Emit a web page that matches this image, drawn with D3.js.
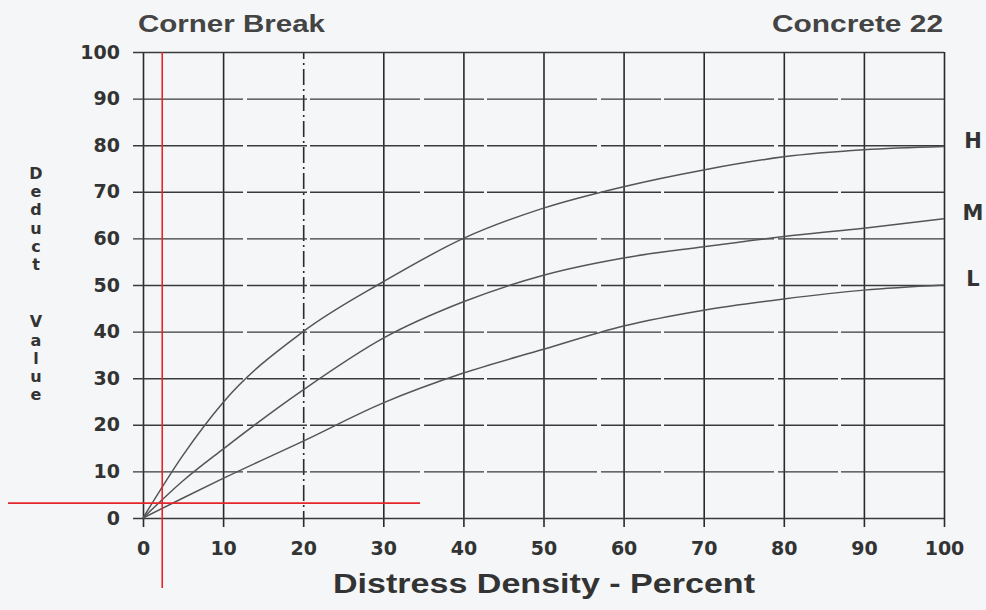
<!DOCTYPE html>
<html>
<head>
<meta charset="utf-8">
<script src="https://cdnjs.cloudflare.com/ajax/libs/d3/7.8.5/d3.min.js"></script>
<style>
  html, body { margin: 0; padding: 0; background: #f4f6f7; }
  svg { display: block; }
</style>
</head>
<body>
<svg width="986" height="610"></svg>
<script>
// density values (percent)
const density = [0, 5, 10, 20, 30, 40, 50, 60, 70, 80, 90, 100];
// deduct value for each severity level
const high = [0, 13.5, 24.8, 40, 50.7, 60, 66.5, 71.1, 74.7, 77.5, 79, 79.7];
const medium = [0, 8, 14.8, 27.5, 38.6, 46.4, 52.1, 55.8, 58.2, 60.4, 62.2, 64.2];
const low = [0, 4.3, 8.5, 16.5, 24.7, 31.1, 36.2, 41.2, 44.6, 47, 48.9, 50];
const severities = ['H', 'M', 'L'];
const xTicks = [0, 10, 20, 30, 40, 50, 60, 70, 80, 90, 100];
const yTicks = [0, 10, 20, 30, 40, 50, 60, 70, 80, 90, 100];
// red reading lines drawn by hand on the chart
const readX = 2.4;
const readY = 3.2;

class DeductChart {
    constructor() {
        this.svg = d3.select('svg');
        this.x = d3.scaleLinear().domain([0, 100]).range([143, 944]);
        this.y = d3.scaleLinear().domain([0, 100]).range([518, 52]);
    }

    drawGrid() {
        const x = this.x, y = this.y, svg = this.svg;

        // vertical grid lines + x labels (ticks poke 9px under the 0 line)
        const gx = svg.append('g')
            .attr('transform', `translate(0,${y(0) + 9})`)
            .call(d3.axisBottom(x).tickValues(xTicks).tickSize(-(y(0) - y(100) + 9)).tickPadding(15));
        gx.select('.domain').remove();
        gx.selectAll('line')
            .attr('stroke', '#2a2a2a')
            .attr('stroke-width', 1.6)
            .attr('stroke-dasharray', d => d === 20 ? '16,4,2,4' : null);

        // horizontal grid lines + y labels (lines start 10px left of the 0 line)
        const gy = svg.append('g')
            .attr('transform', `translate(${x(0) - 10},0)`)
            .call(d3.axisLeft(y).tickValues(yTicks).tickSize(-(x(100) - x(0) + 10)).tickPadding(13));
        gy.select('.domain').remove();
        gy.selectAll('line')
            .attr('stroke', '#3a3a3a')
            .attr('stroke-width', 1.4)
            .attr('stroke-dasharray', d => (d === 0 || d === 100) ? null : '110,4,60,3');

        svg.selectAll('.tick text')
            .attr('font-family', 'DejaVu Sans, sans-serif')
            .attr('font-weight', 'bold')
            .attr('font-size', 19)
            .attr('fill', '#333');
    }

    drawCurves() {
        const x = this.x, y = this.y;
        const rows = [high, medium, low];
        const line = d3.line()
            .x((d, i) => x(density[i]))
            .y(d => y(d))
            .curve(d3.curveMonotoneX);

        this.svg.append('g').selectAll('path')
            .data(rows)
            .join('path')
            .attr('d', line)
            .attr('fill', 'none')
            .attr('stroke', '#555')
            .attr('stroke-width', 1.5);

        // H / M / L labels to the right of the end of each curve
        this.svg.append('g').selectAll('text')
            .data(rows)
            .join('text')
            .attr('x', 973)
            .attr('y', d => y(d[d.length - 1]) + 1)
            .attr('text-anchor', 'middle')
            .attr('font-family', 'DejaVu Sans, sans-serif')
            .attr('font-weight', 'bold')
            .attr('font-size', 21)
            .attr('fill', '#333')
            .text((d, i) => severities[i]);
    }

    drawReadLines() {
        const x = this.x, y = this.y;
        const g = this.svg.append('g').attr('stroke', '#e3262b').attr('stroke-width', 1.6);
        g.append('line')
            .attr('x1', x(readX)).attr('x2', x(readX))
            .attr('y1', y(100)).attr('y2', y(0) + 70);
        g.append('line')
            .attr('x1', 8).attr('x2', 420)
            .attr('y1', y(readY)).attr('y2', y(readY));
    }

    drawText() {
        const svg = this.svg;
        const font = 'Liberation Sans, Arial, sans-serif';

        svg.append('text')
            .attr('x', 138).attr('y', 32)
            .attr('font-family', font).attr('font-weight', 'bold')
            .attr('font-size', 23).attr('fill', '#444')
            .attr('textLength', 187).attr('lengthAdjust', 'spacingAndGlyphs')
            .text('Corner Break');

        svg.append('text')
            .attr('x', 943).attr('y', 32)
            .attr('text-anchor', 'end')
            .attr('font-family', font).attr('font-weight', 'bold')
            .attr('font-size', 23).attr('fill', '#444')
            .attr('textLength', 171).attr('lengthAdjust', 'spacingAndGlyphs')
            .text('Concrete 22');

        svg.append('text')
            .attr('x', 333).attr('y', 593)
            .attr('font-family', font).attr('font-weight', 'bold')
            .attr('font-size', 28).attr('fill', '#333')
            .attr('textLength', 422).attr('lengthAdjust', 'spacingAndGlyphs')
            .text('Distress Density - Percent');

        // stacked vertical y title (upright letters, top to bottom)
        svg.append('text')
            .attr('x', 36).attr('y', 164)
            .attr('font-family', 'DejaVu Sans, sans-serif')
            .attr('font-weight', 'bold')
            .attr('font-size', 16)
            .attr('fill', '#333')
            .style('writing-mode', 'vertical-rl')
            .style('text-orientation', 'upright')
            .style('letter-spacing', '-0.8px')
            .style('word-spacing', '21px')
            .text('Deduct Value');
    }

    build() {
        this.drawGrid();
        this.drawCurves();
        this.drawReadLines();
        this.drawText();
    }
}

const chart = new DeductChart();
chart.build();
</script>
</body>
</html>
